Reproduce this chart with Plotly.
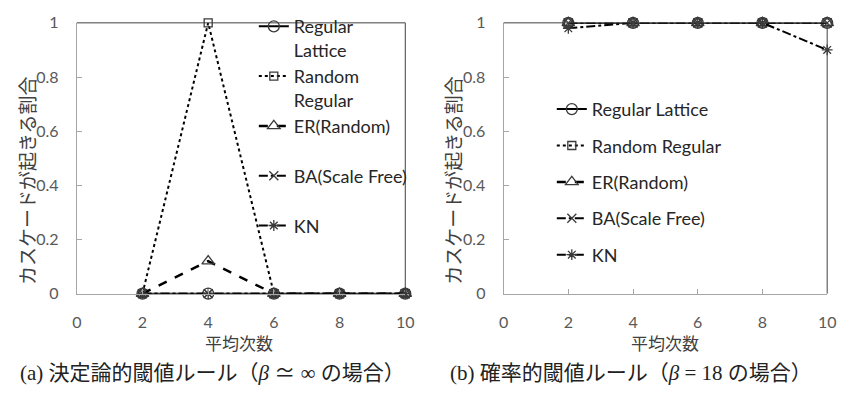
import plotly.graph_objects as go

degrees = [2, 4, 6, 8, 10]
series_names = ["Regular Lattice", "Random Regular", "ER(Random)", "BA(Scale Free)", "KN"]
left_legend_text = ["Regular<br>Lattice", "Random<br>Regular", "ER(Random)<br>&nbsp;", "BA(Scale Free)<br>&nbsp;", "KN<br>&nbsp;"]

# (a) deterministic threshold rule
det_regular_lattice = [0, 0, 0, 0, 0]
det_random_regular = [0, 1, 0, 0, 0]
det_er = [0, 0.12, 0, 0, 0]
det_ba = [0, 0, 0, 0, 0]
det_kn = [0, 0, 0, 0, 0]

# (b) probabilistic threshold rule
prob_regular_lattice = [1, 1, 1, 1, 1]
prob_random_regular = [1, 1, 1, 1, 1]
prob_er = [1, 1, 1, 1, 1]
prob_ba = [1, 1, 1, 1, 1]
prob_kn = [0.98, 1, 1, 1, 0.9]

x_ticks = [0, 2, 4, 6, 8, 10]
y_ticks = [0, 0.2, 0.4, 0.6, 0.8, 1]
y_tick_labels = ["0", "0.2", "0.4", "0.6", "0.8", "1"]

y_title = "カスケードが起きる割合"
x_title = "平均次数"
caption_a = "(a) 決定論的閾値ルール（<i>β</i> ≃ ∞ の場合）"
caption_b = "(b) 確率的閾値ルール（<i>β</i> = 18 の場合）"

styles = [
    dict(dash="solid", symbol="circle-open", size=11, width=2),
    dict(dash="dot", symbol="square-open", size=8, width=2),
    dict(dash="dash", symbol="triangle-up-open", size=11, width=2.5),
    dict(dash="dashdot", symbol="x-thin-open", size=9, width=2),
    dict(dash="dashdot", symbol="asterisk-open", size=9, width=2),
]

fig = go.Figure()

det = [det_regular_lattice, det_random_regular, det_er, det_ba, det_kn]
prob = [prob_regular_lattice, prob_random_regular, prob_er, prob_ba, prob_kn]

for i, (ys, st) in enumerate(zip(det, styles)):
    fig.add_trace(go.Scatter(
        x=degrees, y=ys, mode="lines+markers", name=left_legend_text[i],
        line=dict(color="#000000", width=st["width"], dash=st["dash"]),
        marker=dict(symbol=st["symbol"], size=st["size"], color="#3a3a3a",
                    line=dict(color="#3a3a3a", width=1.3)),
        xaxis="x", yaxis="y", legend="legend", legendgroup="a%d" % i,
        cliponaxis=False,
    ))

for i, (ys, st) in enumerate(zip(prob, styles)):
    fig.add_trace(go.Scatter(
        x=degrees, y=ys, mode="lines+markers", name=series_names[i],
        line=dict(color="#000000", width=st["width"], dash=st["dash"]),
        marker=dict(symbol=st["symbol"], size=st["size"], color="#3a3a3a",
                    line=dict(color="#3a3a3a", width=1.3)),
        xaxis="x2", yaxis="y2", legend="legend2", legendgroup="b%d" % i,
        cliponaxis=False,
    ))

W, H = 847, 394
yd = [1 - 298 / H, 1 - 13.5 / H]
tick_font = dict(family="Lato, Liberation Sans, sans-serif", size=16, color="#595959")
legend_font = dict(family="Lato, Liberation Sans, sans-serif", size=18, color="#262626")

axis_common = dict(
    showgrid=False, zeroline=False, showline=True, linecolor="#a6a6a6", linewidth=1,
    ticks="inside", ticklen=5, tickcolor="#a6a6a6", tickfont=tick_font,
    ticklabelstandoff=14,
)

fig.update_layout(
    width=W, height=H,
    margin=dict(l=0, r=0, t=0, b=0),
    paper_bgcolor="white", plot_bgcolor="white",
    showlegend=True,
    xaxis=dict(domain=[73 / W, 407 / W], range=[0, 10], tickvals=x_ticks,
               anchor="y", **axis_common),
    yaxis=dict(domain=yd, range=[0, 1], tickvals=y_ticks, ticktext=y_tick_labels,
               anchor="x", **axis_common),
    xaxis2=dict(domain=[507 / W, 836 / W], range=[0, 10], tickvals=x_ticks,
                anchor="y2", **axis_common),
    yaxis2=dict(domain=yd, range=[0, 1], tickvals=y_ticks, ticktext=y_tick_labels,
                anchor="x2", **axis_common),
    legend=dict(x=253 / W, y=1 + 2 / H, xanchor="left", yanchor="top",
                bgcolor="rgba(0,0,0,0)", borderwidth=0, valign="top",
                traceorder="grouped", tracegroupgap=0, maxheight=380,
                font=legend_font, itemwidth=30),
    legend2=dict(x=556 / W, y=1 - 85 / H, xanchor="left", yanchor="top",
                 bgcolor="rgba(0,0,0,0)", borderwidth=0,
                 traceorder="grouped", tracegroupgap=10, maxheight=380,
                 font=legend_font, itemwidth=30),
)

# dark frame (top and right edges of plot areas)
for xr in ["x", "x2"]:
    yr = "y" if xr == "x" else "y2"
    fig.add_shape(type="line", xref=xr + " domain", yref=yr + " domain",
                  x0=0, x1=1, y0=1, y1=1, line=dict(color="#404040", width=1))
    fig.add_shape(type="line", xref=xr + " domain", yref=yr + " domain",
                  x0=1, x1=1, y0=0, y1=1, line=dict(color="#404040", width=1))

cjk = "Noto Sans CJK JP, sans-serif"
serif = "Liberation Serif, Noto Sans CJK JP, serif"
ann = []
for xc in [22 / W, 455 / W]:
    ann.append(dict(text=y_title, x=xc, y=1 - 179 / H, xref="paper", yref="paper",
                    showarrow=False, textangle=-90, xanchor="center", yanchor="middle",
                    font=dict(family=cjk, size=19, color="#404040")))
for xc in [238 / W, 671 / W]:
    ann.append(dict(text=x_title, x=xc, y=1 - 349 / H, xref="paper", yref="paper",
                    showarrow=False, xanchor="center", yanchor="middle",
                    font=dict(family=cjk, size=17, color="#404040")))
ann.append(dict(text=caption_a, x=211 / W, y=1 - 381 / H, xref="paper", yref="paper",
                showarrow=False, xanchor="center", yanchor="middle",
                font=dict(family=serif, size=21, color="#222222")))
ann.append(dict(text=caption_b, x=637 / W, y=1 - 381 / H, xref="paper", yref="paper",
                showarrow=False, xanchor="center", yanchor="middle",
                font=dict(family=serif, size=21, color="#222222")))
fig.update_layout(annotations=ann)

fig.write_html("out.html")
